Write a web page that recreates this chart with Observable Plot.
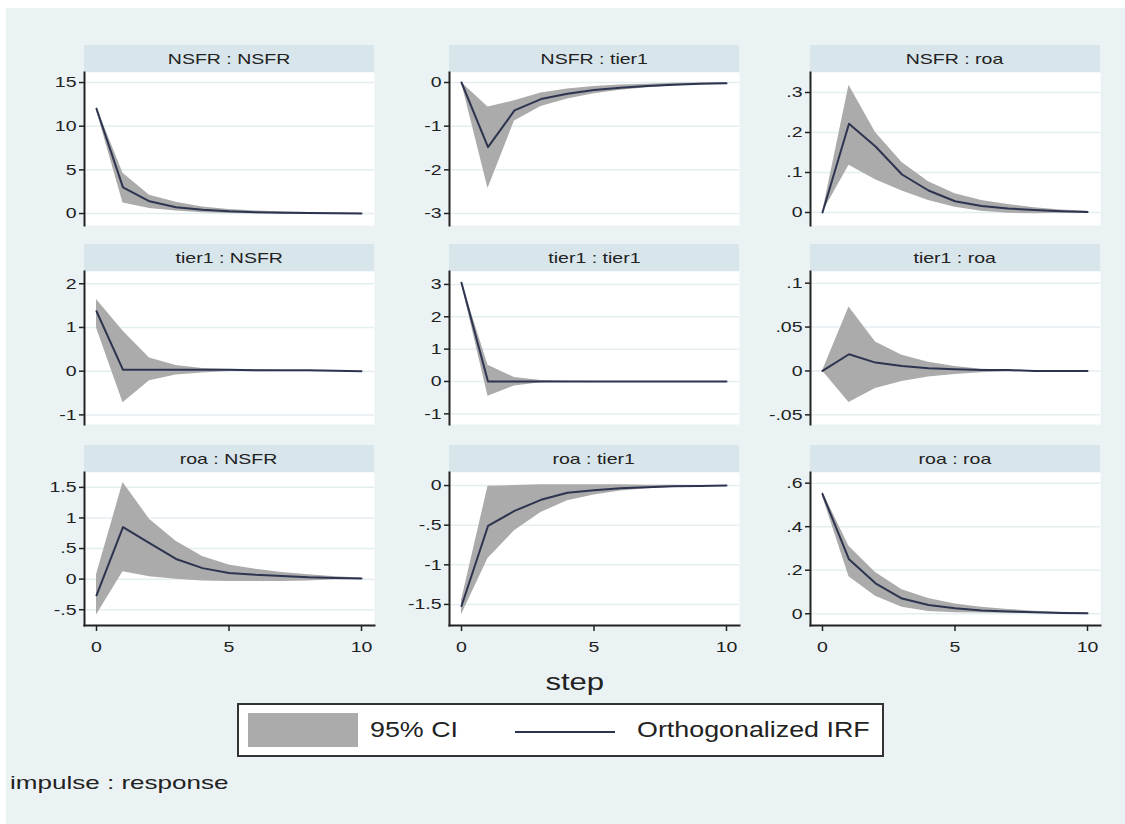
<!DOCTYPE html>
<html><head><meta charset="utf-8">
<script src="https://cdn.jsdelivr.net/npm/d3@7"></script>
<script src="https://cdn.jsdelivr.net/npm/@observablehq/plot@0.6"></script>
<style>
html,body{margin:0;padding:0;background:#fff;}
#page{position:relative;width:1125px;height:824px;background:#fff;overflow:hidden;font-family:"Liberation Sans",Arial,sans-serif;color:#222;}
#region{position:absolute;left:6px;top:8px;right:0;bottom:0;background:#eaf2f4;}
.strip{position:absolute;background:#d8e5eb;color:#222;font-size:15px;text-align:center;line-height:27px;height:27px;white-space:pre;}
.wide{display:inline-block;white-space:pre;}
.strip .wide{transform:scaleX(1.3);transform-origin:center;}
.panel{position:absolute;}
.panel svg{overflow:visible;}
#steplabel{position:absolute;left:475px;width:200px;top:668px;text-align:center;font-size:23px;line-height:28px;}
#steplabel .wide{transform:scaleX(1.35);transform-origin:center;}
#legend{position:absolute;left:237px;top:703px;width:643px;height:50px;background:#fff;border:2px solid #333;box-sizing:content-box;}
#legend .sw{position:absolute;left:9px;top:8px;width:110px;height:34px;background:#ababab;}
#legend .t1,#legend .t2{position:absolute;top:12px;font-size:22px;line-height:26px;transform:scaleX(1.22);transform-origin:left center;white-space:pre;}
#legend .t1{left:131px;}
#legend .t2{left:398px;}
#legend .ln{position:absolute;left:276px;top:26px;width:100px;height:2px;background:#2d3450;}
#note{position:absolute;left:10px;top:772px;font-size:19px;line-height:22px;transform:scaleX(1.37);transform-origin:left center;white-space:pre;}
</style>
</head><body>
<div id="page"><div id="region"></div></div>
<script>
// ---- data ----
const steps = [0,1,2,3,4,5,6,7,8,9,10];
const impulses = ["NSFR","tier1","roa"];
const responses = ["NSFR","tier1","roa"];

// NSFR -> NSFR
const irf_NSFR_NSFR = [12.0, 3.0, 1.4, 0.72, 0.42, 0.25, 0.16, 0.1, 0.06, 0.03, 0.01];
const lo_NSFR_NSFR  = [11.8, 1.2, 0.57, 0.3, 0.08, 0.0, -0.02, -0.02, -0.02, -0.01, 0];
const hi_NSFR_NSFR  = [12.2, 4.6, 2.1, 1.3, 0.75, 0.45, 0.3, 0.2, 0.12, 0.06, 0.02];
// NSFR -> tier1
const irf_NSFR_tier1 = [0, -1.48, -0.64, -0.38, -0.26, -0.17, -0.12, -0.08, -0.05, -0.03, -0.02];
const lo_NSFR_tier1  = [0, -2.43, -0.88, -0.55, -0.38, -0.26, -0.18, -0.12, -0.08, -0.05, -0.03];
const hi_NSFR_tier1  = [0, -0.56, -0.42, -0.24, -0.15, -0.09, -0.06, -0.04, -0.02, -0.01, 0];
// NSFR -> roa
const irf_NSFR_roa = [0, 0.222, 0.165, 0.095, 0.055, 0.028, 0.016, 0.01, 0.006, 0.003, 0.001];
const lo_NSFR_roa  = [0, 0.118, 0.082, 0.054, 0.03, 0.013, 0.003, -0.002, -0.003, -0.002, -0.001];
const hi_NSFR_roa  = [0, 0.318, 0.2, 0.125, 0.077, 0.047, 0.03, 0.02, 0.012, 0.006, 0.003];
// tier1 -> NSFR
const irf_tier1_NSFR = [1.37, 0.03, 0.03, 0.03, 0.03, 0.03, 0.02, 0.02, 0.02, 0.01, 0.0];
const lo_tier1_NSFR  = [0.99, -0.72, -0.22, -0.09, -0.04, -0.01, 0.01, 0.02, 0.02, 0.01, 0];
const hi_tier1_NSFR  = [1.64, 0.92, 0.3, 0.13, 0.06, 0.04, 0.03, 0.02, 0.02, 0.01, 0];
// tier1 -> tier1
const irf_tier1_tier1 = [3.05, 0.0, 0.0, 0.0, 0, 0, 0, 0, 0, 0, 0];
const lo_tier1_tier1  = [3.02, -0.46, -0.14, -0.04, -0.01, 0, 0, 0, 0, 0, 0];
const hi_tier1_tier1  = [3.08, 0.5, 0.12, 0.03, 0.01, 0, 0, 0, 0, 0, 0];
// tier1 -> roa
const irf_tier1_roa = [0, 0.019, 0.0095, 0.0057, 0.003, 0.002, 0.001, 0.001, 0, 0, 0];
const lo_tier1_roa  = [0, -0.036, -0.02, -0.012, -0.007, -0.004, -0.002, -0.001, 0, 0, 0];
const hi_tier1_roa  = [0, 0.073, 0.033, 0.018, 0.01, 0.005, 0.002, 0.001, 0, 0, 0];
// roa -> NSFR
const irf_roa_NSFR = [-0.265, 0.85, 0.59, 0.33, 0.18, 0.1, 0.07, 0.05, 0.03, 0.02, 0.01];
const lo_roa_NSFR  = [-0.586, 0.12, 0.04, 0.0, -0.03, -0.04, -0.04, -0.04, -0.03, -0.01, 0];
const hi_roa_NSFR  = [0.07, 1.58, 0.98, 0.62, 0.37, 0.23, 0.16, 0.11, 0.07, 0.04, 0.02];
// roa -> tier1
const irf_roa_tier1 = [-1.52, -0.51, -0.32, -0.18, -0.09, -0.06, -0.035, -0.02, -0.01, -0.005, 0];
const lo_roa_tier1  = [-1.63, -0.92, -0.57, -0.34, -0.19, -0.12, -0.07, -0.04, -0.02, -0.01, 0];
const hi_roa_tier1  = [-1.45, -0.01, 0.0, 0.01, 0.01, 0.01, 0.01, 0.005, 0.003, 0.001, 0];
// roa -> roa
const irf_roa_roa = [0.55, 0.25, 0.14, 0.07, 0.04, 0.025, 0.015, 0.01, 0.007, 0.004, 0.002];
const lo_roa_roa  = [0.54, 0.17, 0.08, 0.03, 0.01, 0.005, 0.003, 0.002, 0.001, 0, 0];
const hi_roa_roa  = [0.56, 0.31, 0.19, 0.11, 0.07, 0.045, 0.03, 0.02, 0.012, 0.007, 0.004];

// y-axis tick labels per panel (row-major)
const yTicks = [
  [0, 5, 10, 15], [-3, -2, -1, 0], [0, 0.1, 0.2, 0.3],
  [-1, 0, 1, 2], [-1, 0, 1, 2, 3], [-0.05, 0, 0.05, 0.1],
  [-0.5, 0, 0.5, 1, 1.5], [-1.5, -1, -0.5, 0], [0, 0.2, 0.4, 0.6]
];
// y-axis extent per panel (row-major)
const yDomains = [
  [-1.37, 16.15], [-3.275, 0.229], [-0.0325, 0.35],
  [-1.22, 2.28], [-1.33, 3.40], [-0.061, 0.1133],
  [-0.758, 1.743], [-1.766, 0.165], [-0.054, 0.649]
];
const xTicks = [0, 5, 10];

const series = {
  NSFR_NSFR: [irf_NSFR_NSFR, lo_NSFR_NSFR, hi_NSFR_NSFR],
  NSFR_tier1: [irf_NSFR_tier1, lo_NSFR_tier1, hi_NSFR_tier1],
  NSFR_roa: [irf_NSFR_roa, lo_NSFR_roa, hi_NSFR_roa],
  tier1_NSFR: [irf_tier1_NSFR, lo_tier1_NSFR, hi_tier1_NSFR],
  tier1_tier1: [irf_tier1_tier1, lo_tier1_tier1, hi_tier1_tier1],
  tier1_roa: [irf_tier1_roa, lo_tier1_roa, hi_tier1_roa],
  roa_NSFR: [irf_roa_NSFR, lo_roa_NSFR, hi_roa_NSFR],
  roa_tier1: [irf_roa_tier1, lo_roa_tier1, hi_roa_tier1],
  roa_roa: [irf_roa_roa, lo_roa_roa, hi_roa_roa]
};

// ---- layout ----
const colLeft = [84, 449, 810];
const plotTop = [72, 271, 472];
const plotW = 290, plotH = 153, stripH = 27, ML = 50;
const fmt = v => v === 0 ? "0" : String(+v.toFixed(4)).replace(/^(-?)0\./, "$1.");
const page = document.getElementById("page");

impulses.forEach((imp, r) => {
  responses.forEach((resp, c) => {
    const i = r * 3 + c;
    const [irf, lo, hi] = series[imp + "_" + resp];
    const data = steps.map((s, k) => ({step: s, irf: irf[k], lo: lo[k], hi: hi[k]}));

    const strip = document.createElement("div");
    strip.className = "strip";
    strip.style.left = colLeft[c] + "px";
    strip.style.top = (plotTop[r] - stripH) + "px";
    strip.style.width = plotW + "px";
    const span = document.createElement("span");
    span.className = "wide";
    span.textContent = imp + " : " + resp;
    strip.appendChild(span);
    page.appendChild(strip);

    const bottomRow = r === 2;
    const MB = bottomRow ? 42 : 0;
    const marks = [
      Plot.frame({fill: "white", stroke: "none"}),
      Plot.gridY(yTicks[i], {stroke: "#e4edf0", strokeOpacity: 1, strokeWidth: 1.5}),
      Plot.areaY(data, {x: "step", y1: "lo", y2: "hi", fill: "#ababab"}),
      Plot.lineY(data, {x: "step", y: "irf", stroke: "#2d3450", strokeWidth: 2}),
      Plot.frame({anchor: "left", stroke: "#222", strokeWidth: 2}),
      Plot.axisY(yTicks[i], {tickFormat: fmt, tickSize: 5, tickPadding: 3, fontSize: 15, stroke: "#222", strokeWidth: 1.5, label: null})
    ];
    if (bottomRow) {
      marks.push(Plot.frame({anchor: "bottom", stroke: "#222", strokeWidth: 2}));
      marks.push(Plot.axisX(xTicks, {tickSize: 6, tickPadding: 10, fontSize: 15, stroke: "#222", strokeWidth: 1.5, label: null}));
    }
    const chart = Plot.plot({
      width: plotW + ML,
      height: plotH + MB,
      marginLeft: ML, marginRight: 0, marginTop: 0, marginBottom: MB,
      x: {domain: [0, 10], insetLeft: 12, insetRight: 13, axis: bottomRow ? undefined : null, label: null},
      y: {domain: yDomains[i], label: null},
      style: {background: "transparent", fontFamily: "'Liberation Sans', Arial, sans-serif", color: "#222", overflow: "visible"},
      marks
    });
    // widen tick labels horizontally, as in the reference
    chart.querySelectorAll('g[aria-label$="tick label"] text').forEach(t => {
      const tr = t.getAttribute("transform") || "";
      t.setAttribute("transform", tr + " scale(1.3,1)");
    });
    const wrap = document.createElement("div");
    wrap.className = "panel";
    wrap.style.left = (colLeft[c] - ML) + "px";
    wrap.style.top = plotTop[r] + "px";
    wrap.appendChild(chart);
    page.appendChild(wrap);
  });
});

const stepLabel = document.createElement("div");
stepLabel.id = "steplabel";
stepLabel.innerHTML = '<span class="wide">step</span>';
page.appendChild(stepLabel);

const legend = document.createElement("div");
legend.id = "legend";
legend.innerHTML = '<div class="sw"></div><div class="t1">95% CI</div><div class="ln"></div><div class="t2">Orthogonalized IRF</div>';
page.appendChild(legend);

const note = document.createElement("div");
note.id = "note";
note.textContent = "impulse : response";
page.appendChild(note);
</script>
</body></html>
